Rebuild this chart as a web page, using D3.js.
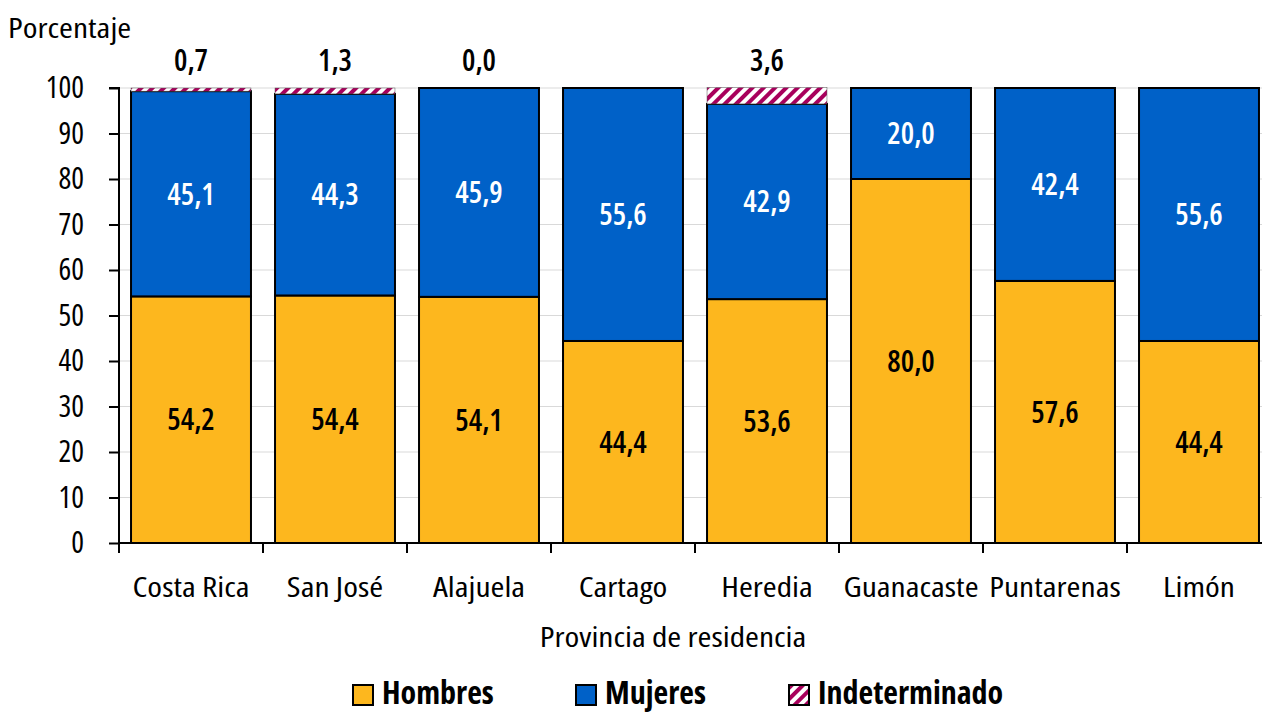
<!DOCTYPE html>
<html>
<head>
<meta charset="utf-8">
<script src="https://cdn.jsdelivr.net/npm/d3@7"></script>
<style>
  body { margin: 0; background: #fff; }
  svg text { font-family: "Open Sans", sans-serif; font-stretch: 75%; fill: #000; }
</style>
</head>
<body>
<svg width="1262" height="712"></svg>
<script>
// data
const provincias = ["Costa Rica", "San José", "Alajuela", "Cartago", "Heredia", "Guanacaste", "Puntarenas", "Limón"];
const hombres = [54.2, 54.4, 54.1, 44.4, 53.6, 80.0, 57.6, 44.4];
const mujeres = [45.1, 44.3, 45.9, 55.6, 42.9, 20.0, 42.4, 55.6];
const indeterminado = [0.7, 1.3, 0.0, 0, 3.6, 0, 0, 0];
const indetLabels = ["0,7", "1,3", "0,0", "", "3,6", "", "", ""];
const yTicks = [0, 10, 20, 30, 40, 50, 60, 70, 80, 90, 100];

const width = 1262;
const height = 712;
const plotLeft = 119, plotTop = 88, plotBottom = 543;
const wide = 1.2; // horizontal stretch of the axis titles / category names

const svg = d3.select("svg");

const xScale = d3.scaleBand()
  .domain(provincias)
  .range([plotLeft, plotLeft + 8 * 144])
  .paddingInner(0.167)
  .paddingOuter(0.0835);

const yScale = d3.scaleLinear()
  .domain([0, 100])
  .range([plotBottom, plotTop]);

// hatch pattern
const defs = svg.append("defs");
const pat = defs.append("pattern")
  .attr("id", "hatch")
  .attr("patternUnits", "userSpaceOnUse")
  .attr("width", 8)
  .attr("height", 8)
  .attr("patternTransform", "rotate(45)");
pat.append("rect").attr("width", 8).attr("height", 8).attr("fill", "#fff");
pat.append("rect").attr("width", 4).attr("height", 8).attr("fill", "#a8005c");

// gridlines
svg.append("g")
  .selectAll("line")
  .data(yTicks.filter(d => d > 0))
  .join("line")
    .attr("x1", plotLeft)
    .attr("x2", width)
    .attr("y1", d => yScale(d))
    .attr("y2", d => yScale(d))
    .attr("stroke", "#d9d9d9")
    .attr("stroke-width", 1);

const series = [
  { key: "Hombres", values: hombres, fill: "#fdb71e", text: "#000" },
  { key: "Mujeres", values: mujeres, fill: "#0061c8", text: "#fff" },
  { key: "Indeterminado", values: indeterminado, fill: "url(#hatch)", text: "#000" }
];

const rows = provincias.map((p, i) => {
  let acc = 0;
  return series.map(s => {
    const v = s.values[i];
    const seg = { prov: p, key: s.key, y0: acc, y1: acc + v, v, fill: s.fill, text: s.text, i };
    acc += v;
    return seg;
  });
});
const segs = rows.flat();

svg.append("g")
  .selectAll("rect")
  .data(segs.filter(d => d.v > 0))
  .join("rect")
    .attr("x", d => xScale(d.prov))
    .attr("width", xScale.bandwidth())
    .attr("y", d => yScale(d.y1))
    .attr("height", d => yScale(d.y0) - yScale(d.y1))
    .attr("fill", d => d.fill)
    .attr("stroke", d => d.key === "Indeterminado" ? "#555" : "#000")
    .attr("stroke-width", d => d.key === "Indeterminado" ? 0.5 : 2);

// value labels
const fmt = v => v.toFixed(1).replace(".", ",");
svg.append("g")
  .selectAll("text")
  .data(segs.filter(d => d.key !== "Indeterminado"))
  .join("text")
    .attr("x", d => xScale(d.prov) + xScale.bandwidth() / 2)
    .attr("y", d => yScale((d.y0 + d.y1) / 2))
    .attr("dy", "0.36em")
    .attr("text-anchor", "middle")
    .style("font-size", "30px")
    .style("font-weight", 600)
    .style("fill", d => d.text)
    .text(d => fmt(d.v));

svg.append("g")
  .selectAll("text")
  .data(provincias)
  .join("text")
    .attr("x", d => xScale(d) + xScale.bandwidth() / 2)
    .attr("y", 71)
    .attr("text-anchor", "middle")
    .style("font-size", "30px")
    .style("font-weight", 600)
    .text((d, i) => indetLabels[i]);

// axes
const yAxis = svg.append("g")
  .attr("transform", `translate(${plotLeft}, 0)`)
  .call(d3.axisLeft(yScale).tickValues(yTicks).tickSize(10).tickPadding(25));
yAxis.selectAll("text").style("font-size", "30px").style("font-weight", 500);

const xAxis = svg.append("g")
  .attr("transform", `translate(0, ${plotBottom})`)
  .call(d3.axisBottom(xScale).tickSize(0).tickPadding(34));
xAxis.selectAll("text")
  .style("font-size", "28px")
  .style("font-weight", 500)
  .attr("transform", `scale(${wide},1)`);

// category separator ticks
svg.append("g")
  .selectAll("line")
  .data(d3.range(provincias.length + 1))
  .join("line")
    .attr("x1", i => plotLeft + i * xScale.step())
    .attr("x2", i => plotLeft + i * xScale.step())
    .attr("y1", plotBottom)
    .attr("y2", plotBottom + 10)
    .attr("stroke", "#000")
    .attr("stroke-width", 2);

svg.selectAll(".domain").attr("stroke", "#000").attr("stroke-width", 2);
yAxis.selectAll(".tick line").attr("stroke-width", 2);
xAxis.select(".domain").attr("d", `M${plotLeft},0H${width}`);
yAxis.select(".domain").attr("d", `M-10,${plotTop}H0V${plotBottom}`);

svg.append("text")
  .attr("transform", `translate(8,38) scale(${wide},1)`)
  .style("font-size", "28px")
  .style("font-weight", 500)
  .text("Porcentaje");

svg.append("text")
  .attr("transform", `translate(673,647) scale(${wide},1)`)
  .attr("text-anchor", "middle")
  .style("font-size", "28px")
  .style("font-weight", 500)
  .text("Provincia de residencia");

// legend
const legendX = [353, 576, 789];
const legend = svg.append("g")
  .selectAll("g")
  .data(series)
  .join("g")
    .attr("transform", (d, i) => `translate(${legendX[i]}, 685)`);
legend.append("rect")
  .attr("width", 20)
  .attr("height", 20)
  .attr("fill", d => d.fill)
  .attr("stroke", "#000")
  .attr("stroke-width", 2);
legend.append("text")
  .attr("x", 29)
  .attr("y", 19)
  .style("font-size", "32px")
  .style("font-weight", 700)
  .text(d => d.key);
</script>
</body>
</html>
